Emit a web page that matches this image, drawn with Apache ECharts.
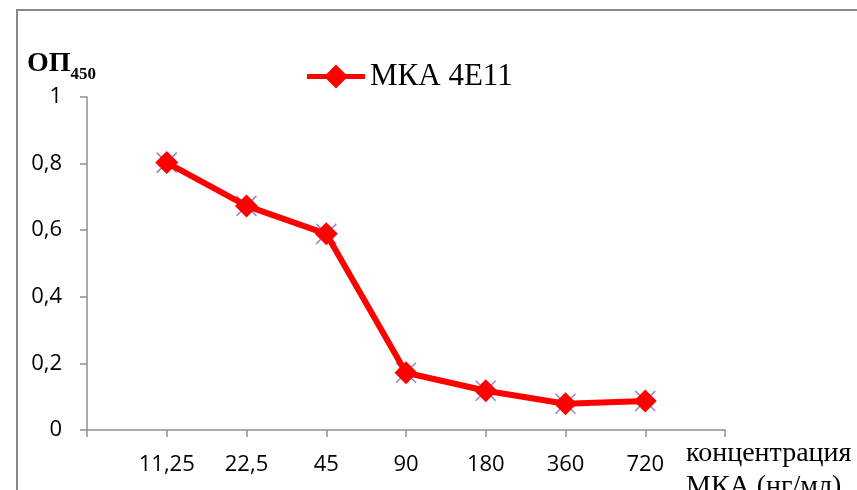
<!DOCTYPE html>
<html>
<head>
<meta charset="utf-8">
<script src="https://cdn.jsdelivr.net/npm/echarts@6/dist/echarts.min.js"></script>
<style>
  html, body { margin: 0; padding: 0; background: #fff; }
  #chart { width: 857px; height: 490px; }
</style>
</head>
<body>
<div id="chart"></div>
<script>
// Antibody concentrations (ng/ml); empty slots pad both ends of the axis
const categories = ['', '11,25', '22,5', '45', '90', '180', '360', '720', ''];
// Optical density at 450 nm
const odValues = [null, 0.803, 0.673, 0.589, 0.172, 0.118, 0.079, 0.087, null];
const yTicks = [0, 0.2, 0.4, 0.6, 0.8, 1];
const seriesName = 'МКА 4E11';

const chart = echarts.init(document.getElementById('chart'), null, { renderer: 'canvas' });

const axisColor = '#8e8e8e';
const tickFont = { fontFamily: 'Open Sans', fontSize: 22, color: '#000' };

// legend glyph: thick line with a diamond in the middle (58 x 24 box)
const legendIcon = 'path://M0,9.5L19.5,9.5L29,0L38.5,9.5L58,9.5L58,14.5L38.5,14.5L29,24L19.5,14.5L0,14.5Z';

chart.setOption({
  animation: false,
  backgroundColor: '#fff',
  grid: { left: 87, right: 132, top: 97, bottom: 60, containLabel: false },
  legend: {
    data: [{ name: seriesName, icon: legendIcon }],
    left: 302,
    top: 56,
    itemWidth: 58,
    itemHeight: 24,
    itemStyle: { color: '#ff0000' },
    textStyle: { fontFamily: 'Liberation Serif', fontSize: 31, color: '#000' }
  },
  xAxis: {
    type: 'category',
    data: categories,
    boundaryGap: false,
    axisLine: { lineStyle: { color: axisColor, width: 1.5 } },
    axisTick: { interval: 0, length: 7, lineStyle: { color: axisColor, width: 1.5 } },
    axisLabel: Object.assign({ interval: 0, margin: 24 }, tickFont),
    splitLine: { show: false }
  },
  yAxis: {
    type: 'value',
    min: yTicks[0],
    max: yTicks[yTicks.length - 1],
    interval: 0.2,
    axisLine: { show: true, lineStyle: { color: axisColor, width: 1.5 } },
    axisTick: { show: true, length: 7, lineStyle: { color: axisColor, width: 1.5 } },
    axisLabel: Object.assign({
      margin: 25,
      formatter: v => String(Math.round(v * 10) / 10).replace('.', ',')
    }, tickFont),
    splitLine: { show: false }
  },
  series: [
    {
      // thin crosses peeking out behind each marker
      type: 'scatter',
      data: odValues,
      symbol: 'path://M0,0L10,10M10,0L0,10',
      symbolSize: 20,
      itemStyle: { color: 'none', borderColor: '#7b68b8', borderWidth: 1.5 },
      z: 1,
      silent: true
    },
    {
      name: seriesName,
      type: 'line',
      data: odValues,
      symbol: 'diamond',
      symbolSize: 23,
      lineStyle: { color: '#ff0000', width: 6 },
      itemStyle: { color: '#ff0000' },
      z: 2
    }
  ],
  graphic: [
    {
      // outer chart frame
      type: 'rect',
      shape: { x: 17, y: 10, width: 1000, height: 1000 },
      style: { fill: 'none', stroke: '#8a8a8a', lineWidth: 2 },
      silent: true
    },
    {
      type: 'text',
      left: 27,
      top: 50,
      style: {
        text: '{a|ОП}{b|450}',
        rich: {
          a: { fontFamily: 'Liberation Serif', fontWeight: 'bold', fontSize: 28, color: '#000', verticalAlign: 'bottom' },
          b: { fontFamily: 'Liberation Serif', fontWeight: 'bold', fontSize: 17, color: '#000', verticalAlign: 'bottom', padding: [0, 0, -5, 0] }
        }
      }
    },
    {
      type: 'text',
      left: 686,
      top: 437,
      style: {
        text: 'концентрация\nМКА (нг/мл)',
        fontFamily: 'Liberation Serif',
        fontSize: 28,
        lineHeight: 33,
        fill: '#000'
      }
    }
  ]
});
</script>
</body>
</html>
